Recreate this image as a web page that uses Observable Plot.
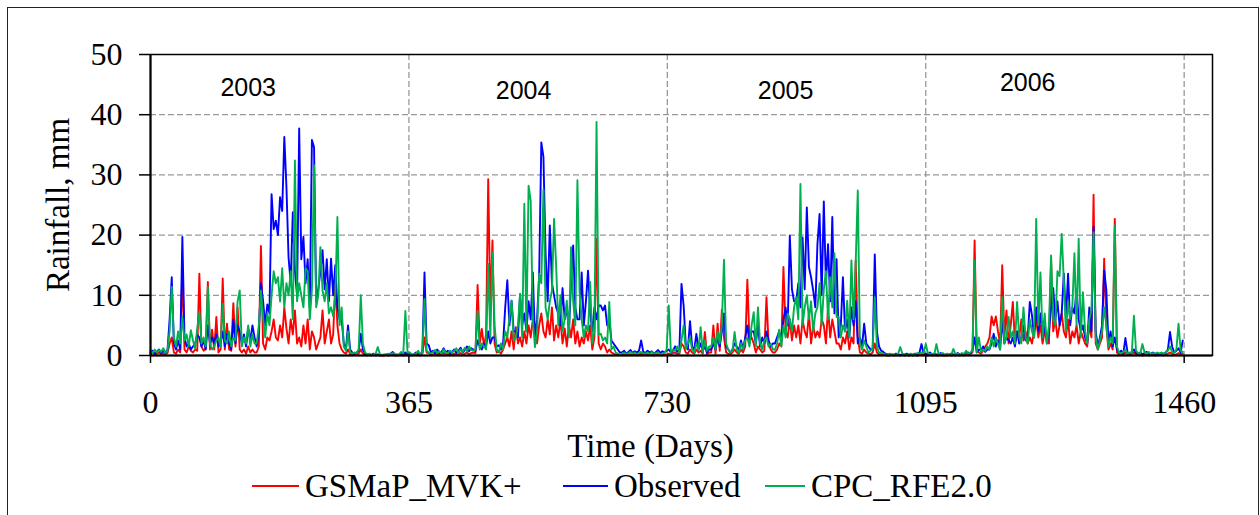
<!DOCTYPE html>
<html><head><meta charset="utf-8">
<script src="https://cdn.jsdelivr.net/npm/d3@7"></script>
<script src="https://cdn.jsdelivr.net/npm/@observablehq/plot@0.6"></script>
<style>
html,body{margin:0;padding:0;background:#fff;width:1260px;height:515px;overflow:hidden;}
#wrap{position:relative;width:1260px;height:515px;overflow:hidden;}
#border{position:absolute;left:7px;top:7px;width:1252px;height:540px;border:1.3px solid #222;box-sizing:border-box;}
#chart{position:absolute;left:0;top:0;}
.leg{position:absolute;font-family:"Liberation Serif","Times New Roman",serif;font-size:33px;line-height:40px;top:466px;white-space:nowrap;color:#000;}
.sw{position:absolute;height:2px;top:485px;}
</style></head><body><div id="wrap"><div id="border"></div><div id="chart"></div><div id="legend"></div></div>
<script>
const dayStep = 3;

const observed2003 = [
0.5,0.8,0.3,0.6,1.0,0.4,0.7,0.5,0.9,6.0,
13,2.0,1.0,2.5,1.0,19.7,3.0,1.5,2.0,1.0,
1.5,2.0,3.5,3.0,1.5,2.5,1.0,5.0,2.0,3.0,
2.0,3.5,1.5,2.0,4.0,1.5,3.5,2.0,1.0,6.0,
2.0,5.0,4.0,2.0,3.5,1.5,4.5,2.5,5.0,3.0,
1.5,4.0,12.0,9.1,5.0,8.5,7.0,26.8,21.0,22.4,
20.0,26.3,24.0,36.3,28.0,16.3,12.0,23.8,14.0,10.0,
37.7,16.0,19.7,12.0,16.0,8.0,35.8,34.6,9.0,11.0,
14.0,17.5,11.0,16.0,9.0,16.1,10.0,15.0,8.0,6.0,
6.0,2.0,1.0,5.0,1.0,0.5,0.3,0.5,0.8,3.6,
1.0,0.3,0.1,0.2,0.1,0.3,0.1,0.2,0.1,0.1,
0.1,0.2,0.1,0.3,0.6,0.2,0.1,0.2,0.3,0.1,0.5,0.2];
const gsmap2003 = [
0.2,0.4,0.1,0.3,0.5,0.2,0.3,0.2,0.4,2.0,
3,0.5,0.3,1.0,0.5,14.4,1.0,0.5,1.5,0.8,
0.5,1.0,0.8,13.6,1.5,0.8,1.2,12.2,1.0,4.3,
1.0,6.4,0.5,1.0,12.8,1.0,5.3,1.0,0.8,8.7,
1.5,8.0,1.0,0.5,1.0,0.3,1.5,0.5,1.0,0.5,
0.5,1.5,18.2,2.0,1.0,3.0,2.5,4.0,6.0,3.0,
2.5,5.0,3.0,8.0,4.5,2.0,6.0,3.5,7.5,2.0,
3.0,1.5,5.0,2.0,6.0,1.0,4.0,3.0,1.0,2.0,
3.0,7.5,2.0,4.0,6.0,2.0,3.5,12.0,5.0,2.0,
1.0,0.5,0.3,1.0,0.2,0.1,0.1,0.2,0.3,1.0,
0.3,0.1,0.0,0.1,0.0,0.2,0.0,0.1,0.0,0.0,
0.0,0.1,0.0,0.1,0.2,0.0,0.0,0.1,0.1,0.0,0.3,0.1];
const cpc2003 = [
0.8,0.4,1.0,0.5,0.9,0.6,1.2,0.5,0.8,4.0,
11.4,3.0,1.5,4.0,2.0,6.4,2.5,3.5,1.5,4.2,
2.5,1.2,4.5,7.2,2.0,3.0,1.5,11.4,2.0,1.0,
1.5,2.5,3.0,1.5,8.6,2.5,2.0,4.0,1.5,3.0,
2.5,9.0,10.8,1.5,3.0,2.0,5.0,1.5,3.5,2.0,
2.0,5.0,10.8,6.4,3.0,7.0,5.0,10.0,14.0,12.0,
13.0,9.0,14.5,8.0,12.0,10.0,14.0,6.0,32.4,9.0,
12.0,10.0,8.0,14.5,14.0,6.0,11.0,31.6,8.0,10.0,
18.0,10.8,9.0,12.0,7.0,8.0,6.5,10.0,23.0,5.0,
8.0,1.5,0.8,4.0,0.5,0.3,0.5,0.4,1.0,10.0,
2.0,0.5,0.2,0.3,0.1,0.2,0.3,1.4,0.2,0.1,
0.2,0.1,0.3,0.2,0.4,0.3,0.1,0.2,0.6,0.3,7.4,0.5];

const observed2004 = [
0.3,0.1,0.2,0.5,0.3,0.2,0.6,13.8,2.0,1.7,
0.5,0.8,0.3,1.0,0.4,0.6,1.2,0.5,0.8,0.3,
0.6,1.0,0.4,0.8,1.3,0.5,0.9,1.5,0.7,1.2,
1.0,0.8,2.5,1.5,1.0,2.0,1.5,4.0,2.0,3.0,
3.0,1.5,1.7,1.0,2.0,8.0,12.5,5.0,9.1,4.0,
4.0,3.0,10.2,5.0,7.0,4.0,9.0,6.0,13.8,3.0,
6.0,13.6,35.4,33.0,17.0,9.0,21.6,12.0,10.0,8.0,
7.0,5.0,11.2,6.0,8.0,4.0,12.0,18.3,8.0,6.0,
6.0,13.8,5.0,9.0,14.1,7.0,4.0,8.0,6.0,8.3,
8.3,7.5,8.3,5.0,6.0,2.5,2.0,1.5,1.0,0.5,
0.5,0.8,0.3,0.6,0.9,0.4,0.7,0.5,0.8,2.5,
0.6,0.4,0.8,0.5,0.7,0.3,0.6,0.9,0.4,0.7,0.5,0.8];
const gsmap2004 = [
0.1,0.0,0.1,0.2,0.1,0.0,0.3,3.0,0.5,0.4,
0.1,0.2,0.1,0.3,0.1,0.2,0.4,0.1,0.2,0.1,
0.2,0.3,0.1,0.2,0.4,0.1,0.3,0.5,0.2,0.4,
0.5,0.4,11.7,2.0,4.4,1.5,3.5,29.3,8.0,19.1,
2.0,0.5,0.8,0.3,1.0,2.0,3.0,1.5,4.0,1.0,
4.7,2.0,3.0,1.5,4.0,2.0,5.0,3.0,6.0,4.3,
2.0,5.0,7.0,4.0,3.0,6.0,3.5,8.0,2.5,5.0,
3.0,6.0,2.0,4.5,1.5,5.0,3.0,6.0,2.0,4.0,
1.5,3.0,2.0,4.0,2.5,5.0,1.0,3.0,19.4,2.0,
1.0,2.0,1.5,0.5,1.0,0.5,0.3,0.2,0.1,0.1,
0.1,0.2,0.1,0.1,0.2,0.1,0.2,0.1,0.1,0.3,
0.1,0.1,0.2,0.1,0.1,0.0,0.1,0.2,0.1,0.1,0.1,0.2];
const cpc2004 = [
0.5,0.2,0.1,0.3,0.8,0.2,0.4,9.4,0.8,0.5,
0.3,0.6,0.9,0.4,0.7,0.3,1.0,0.5,0.4,0.8,
0.5,0.8,1.2,0.4,1.0,0.6,1.3,0.7,1.5,0.9,
0.8,1.0,7.4,1.0,2.0,1.5,1.0,15.2,3.0,17.2,
5.0,1.0,0.5,2.0,1.0,4.0,3.0,6.4,9.1,2.5,
3.0,5.0,10.2,3.0,25.2,4.0,28.2,25.7,6.0,1.4,
4.0,13.6,12.0,27.6,8.0,6.0,9.0,10.8,22.7,14.7,
5.0,10.0,4.0,6.0,9.1,3.0,18.0,9.0,5.0,29.1,
10.8,6.0,3.0,5.0,4.0,12.2,2.0,4.0,38.8,3.5,
3.6,2.5,3.0,2.0,8.9,1.0,1.5,0.5,0.3,0.2,
0.3,0.5,0.2,0.4,0.6,0.3,0.5,0.2,0.4,0.6,
0.4,0.3,0.5,0.2,0.6,0.3,0.4,0.5,0.2,0.3,0.4,1.0];

const observed2005 = [
1.0,0.5,0.8,1.5,0.6,1.0,11.9,8.3,2.0,1.0,
5.7,1.5,1.0,3.6,1.0,2.0,0.8,1.5,0.5,1.0,
1.0,2.0,1.0,3.0,1.5,4.0,7.0,1.5,1.0,0.5,
1.0,2.0,1.5,0.8,2.5,1.0,3.0,5.0,2.0,4.0,
4.0,2.0,5.0,1.5,3.0,2.0,4.0,2.5,1.5,2.0,
2.0,3.0,4.0,2.5,6.0,8.0,5.0,19.9,11.0,9.0,
9.0,12.0,8.0,19.6,11.0,24.6,14.7,13.0,10.8,8.0,
18.5,23.5,10.0,25.6,12.0,18.5,9.0,23.0,7.0,16.0,
3.0,5.0,13.0,4.0,6.0,3.0,8.0,5.0,9.0,2.0,
3.0,1.5,5.3,2.0,1.5,1.0,1.0,16.8,4.0,1.5,
0.8,0.6,0.3,0.2,0.1,0.2,0.1,0.3,0.2,0.1,
0.2,0.1,0.3,0.1,0.2,0.1,0.3,0.2,0.4,1.9,0.3];
const gsmap2005 = [
0.3,0.2,0.4,0.5,0.2,0.3,2.0,1.5,0.5,0.3,
1.0,0.5,0.3,1.0,0.5,0.8,0.3,3.9,0.2,0.5,
0.5,5.0,0.3,5.3,0.8,7.6,3.0,0.5,0.3,0.2,
0.5,1.0,0.5,0.3,1.0,0.5,1.5,12.6,2.5,3.0,
2.0,0.5,1.5,1.0,0.5,0.8,9.7,2.0,1.0,0.5,
0.5,1.0,2.0,1.5,14.7,4.0,3.0,6.0,2.5,5.0,
3.0,5.0,2.0,6.0,4.0,3.0,7.0,2.0,5.0,3.0,
4.0,3.0,6.0,5.0,2.0,8.0,3.0,6.0,4.0,2.0,
2.0,1.0,3.0,2.0,4.0,1.0,3.0,2.0,15.8,3.0,
0.5,0.3,1.0,0.5,0.3,0.2,0.5,2.0,0.5,0.2,
0.2,0.1,0.1,0.0,0.0,0.1,0.0,0.1,0.1,0.0,
0.1,0.0,0.1,0.0,0.1,0.0,0.1,0.0,0.1,0.2,0.1];
const cpc2005 = [
8.3,0.5,1.0,0.8,1.5,0.5,2.5,5.0,1.0,2.0,
3.0,1.0,0.5,2.0,1.0,4.7,0.6,2.5,0.8,1.5,
1.5,3.0,1.0,4.0,2.0,5.0,15.9,2.0,1.0,0.5,
0.8,3.9,1.0,0.5,2.0,1.0,2.5,3.0,1.5,5.0,
7.2,1.5,8.0,2.0,1.0,2.5,3.0,1.5,2.0,1.0,
1.0,2.0,4.3,1.5,5.0,3.0,7.0,6.0,4.0,8.0,
9.7,6.0,28.5,5.0,8.0,10.0,6.0,9.0,4.0,7.0,
8.0,12.0,5.0,11.0,14.0,6.0,13.0,8.0,17.0,6.4,
6.4,3.0,5.0,4.0,9.1,3.0,15.8,6.0,15.2,27.4,
2.0,1.0,2.5,1.5,0.5,0.8,1.0,9.7,1.5,0.5,
0.5,0.3,0.2,0.1,0.3,0.1,0.2,0.1,0.3,1.4,
0.3,0.2,0.1,0.2,0.3,0.1,0.2,0.4,0.3,0.5,0.4];

const observed2006 = [
0.3,0.2,0.5,0.1,0.3,0.2,0.1,0.4,0.2,0.1,
0.2,0.1,0.3,0.2,0.1,0.4,0.2,0.1,0.3,0.5,
0.5,0.3,0.8,3.0,0.5,1.0,0.8,1.5,0.6,1.0,
1.0,2.0,3.6,1.5,2.5,1.0,6.0,2.0,3.0,2.5,
2.0,3.0,1.5,4.0,2.0,3.0,5.0,2.5,3.0,8.9,
6.7,3.0,8.0,4.0,7.0,3.0,5.0,2.0,4.0,8.0,
11.2,6.0,9.0,5.0,7.0,13.6,6.0,13.6,5.0,8.0,
7.0,11.0,6.0,4.0,5.0,3.0,2.0,8.0,4.0,21.4,
4.0,1.5,3.0,5.0,14.1,11.0,2.0,4.0,1.5,3.0,
1.0,0.5,0.8,0.3,2.9,0.5,0.3,0.6,1.0,0.4,
0.3,0.5,0.2,0.4,0.6,0.2,0.3,0.5,0.2,0.3,
0.2,0.4,0.3,0.5,1.0,3.9,1.5,0.5,0.8,1.2,0.5,2.5];
const gsmap2006 = [
0.1,0.0,0.1,0.0,0.1,0.0,0.0,0.1,0.0,0.0,
0.0,0.1,0.0,0.1,0.0,0.1,0.0,0.1,0.0,0.2,
0.2,0.3,0.5,19.1,1.0,0.5,0.3,0.8,1.5,2.0,
3.0,6.5,5.0,6.5,4.0,2.0,15.0,3.0,7.5,2.0,
5.0,8.9,2.0,4.0,3.0,6.0,2.5,4.0,2.0,3.0,
2.0,4.0,6.0,3.0,5.0,2.0,4.0,3.0,2.0,15.8,
4.0,6.0,3.0,5.0,7.0,4.0,3.0,6.0,2.0,4.0,
3.0,5.0,2.0,4.0,3.0,2.0,1.5,5.0,3.0,26.7,
2.0,1.0,2.0,3.0,16.1,5.0,1.0,2.0,1.0,22.7,
0.5,0.2,0.3,0.1,0.5,0.2,0.1,0.2,0.5,0.1,
0.1,0.1,0.0,0.1,0.2,0.0,0.1,0.1,0.0,0.1,
0.1,0.1,0.0,0.2,0.3,0.5,0.3,0.1,0.2,0.4,0.2,0.3];
const cpc2006 = [
1.9,0.4,0.2,0.3,0.1,1.9,0.3,0.2,0.4,0.1,
0.3,0.2,0.1,1.1,0.2,0.3,0.1,0.4,0.2,0.8,
0.3,0.5,0.8,15.8,0.5,3.0,0.6,1.0,0.8,1.5,
1.0,3.0,1.5,3.0,2.0,1.0,9.7,2.0,3.0,6.4,
3.0,4.0,2.0,8.9,3.0,2.0,8.0,3.0,2.0,6.0,
4.0,3.0,22.7,5.0,13.8,3.0,7.0,2.0,5.0,16.6,
6.0,5.0,14.0,13.2,20.2,12.5,4.0,9.0,6.0,8.0,
17.0,5.0,19.4,3.0,10.5,4.0,2.0,6.0,7.5,20.5,
3.0,1.0,2.5,4.0,8.0,5.0,1.5,3.0,2.0,21.6,
1.5,0.5,0.3,0.6,1.0,0.3,0.5,0.4,6.6,0.8,
0.4,0.3,1.9,0.5,0.3,0.6,0.2,0.4,0.3,0.5,
0.3,0.5,0.2,0.6,0.8,1.5,0.6,0.4,1.0,5.3,0.8,0.6];

const seriesNames = ["GSMaP_MVK+", "Observed", "CPC_RFE2.0"];
const seriesColors = ["#FF0000", "#0000FF", "#00B050"];
const xTicks = [0, 365, 730, 1095, 1460];
const yTicks = [0, 10, 20, 30, 40, 50];
const yearLabels = ["2003", "2004", "2005", "2006"];
const yearDay = [138, 527, 897, 1239];
const yearY = [44.4, 44.0, 43.9, 45.3];

const gsmap = [...gsmap2003, ...gsmap2004, ...gsmap2005, ...gsmap2006];
const observed = [...observed2003, ...observed2004, ...observed2005, ...observed2006];
const cpc = [...cpc2003, ...cpc2004, ...cpc2005, ...cpc2006];
const days = gsmap.map((_, i) => i * dayStep);
const rows = vals => vals.map((v, i) => ({day: days[i], v}));
const allSeries = [gsmap, observed, cpc];

const serif = '"Liberation Serif","Times New Roman",serif';
const grid = {stroke: "#999", strokeWidth: 1.3, strokeDasharray: "6,3", strokeOpacity: 1};

const plot = Plot.plot({
  width: 1260, height: 460,
  marginLeft: 150, marginRight: 48, marginTop: 54, marginBottom: 105,
  style: {fontFamily: serif, fontSize: "32px", color: "#000", background: "transparent", overflow: "visible"},
  x: {domain: [0, 1500]},
  y: {domain: [0, 50]},
  marks: [
    Plot.ruleY(yTicks.slice(1, -1), grid),
    Plot.ruleX(xTicks.slice(1), grid),
    ...allSeries.map((s, k) => Plot.line(rows(s), {x: "day", y: "v", stroke: seriesColors[k], strokeWidth: 1.9})),
    Plot.frame({stroke: "#000", strokeWidth: 1.5}),
    Plot.ruleX([0], {stroke: "#000", strokeWidth: 2}),
    Plot.ruleY([0], {stroke: "#000", strokeWidth: 2}),
    Plot.axisY({ticks: yTicks, tickSize: 11, tickPadding: 17, label: null, strokeWidth: 1.5}),
    Plot.axisX({ticks: xTicks, tickSize: 8, tickPadding: 27, tickFormat: d => String(d), label: null, strokeWidth: 1.5}),
    Plot.text(["Rainfall, mm"], {frameAnchor: "left", textAnchor: "middle", lineAnchor: "middle", dx: -92, rotate: -90, fontSize: 33}),
    Plot.text(["Time (Days)"], {frameAnchor: "bottom", textAnchor: "middle", lineAnchor: "middle", dx: -31, dy: 91, fontSize: 33}),
    Plot.text(yearLabels, {x: yearDay, y: yearY, text: d => d, fontFamily: '"Liberation Sans",Arial,sans-serif', fontSize: 25})
  ]
});
document.getElementById("chart").appendChild(plot);

// legend below the chart
const legend = document.getElementById("legend");
const swatchX = [252, 563, 765];
const swatchW = [47, 45, 40];
seriesNames.forEach((name, k) => {
  const sw = document.createElement("div");
  sw.className = "sw";
  sw.style.left = swatchX[k] + "px";
  sw.style.width = swatchW[k] + "px";
  sw.style.background = seriesColors[k];
  legend.appendChild(sw);
  const t = document.createElement("div");
  t.className = "leg";
  t.style.left = (swatchX[k] + swatchW[k] + 6) + "px";
  t.textContent = name;
  legend.appendChild(t);
});
</script>
</body></html>
